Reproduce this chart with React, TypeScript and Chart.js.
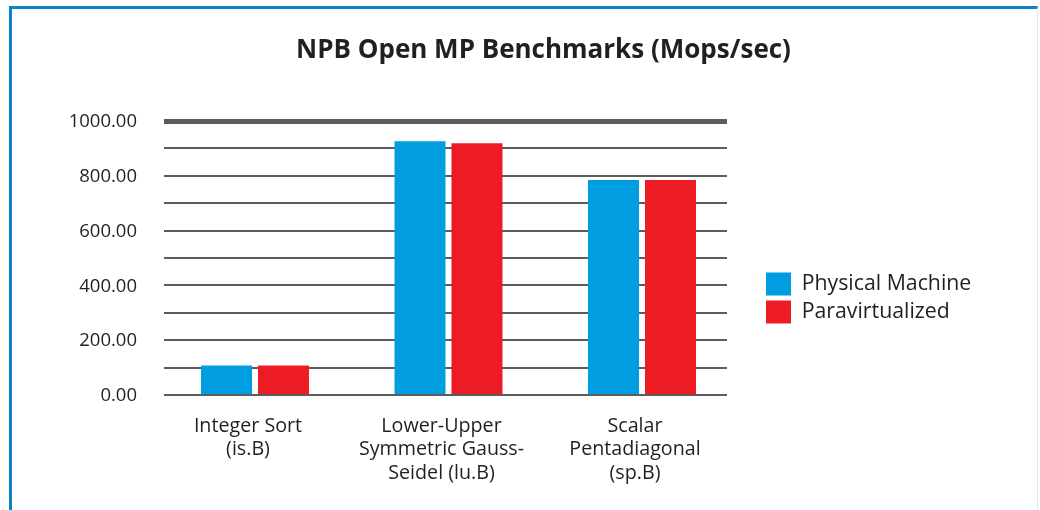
import React, { useEffect, useRef } from 'react';
import { Chart, registerables } from 'chart.js';

Chart.register(...registerables);

const chartTitle = 'NPB Open MP Benchmarks (Mops/sec)';
const categoryLabels: string[][] = [
  ['Integer Sort', '(is.B)'],
  ['Lower-Upper', 'Symmetric Gauss-', 'Seidel (lu.B)'],
  ['Scalar', 'Pentadiagonal', '(sp.B)'],
];
const categoryPositions = [0, 1, 2];
const seriesNames = ['Physical Machine', 'Paravirtualized'];
const physicalMachine = [108, 926, 785];
const paravirtualized = [108, 919, 785];
const yMin = 0;
const yMax = 1000;
const yStep = 100;
const yLabelStep = 200;
const seriesColors = ['#009ee0', '#ed1c24'];

const textColor = '#231f20';
const gridColor = '#5c5c5c';
const fontFamily = "'Open Sans', sans-serif";

const CANVAS_W = 1040;
const PLOT_RIGHT = 727;
const LEGEND_GAP = 34;

export default function App() {
  const ref = useRef<HTMLCanvasElement>(null);

  useEffect(() => {
    const canvas = ref.current;
    if (!canvas) return;
    const seriesValues = [physicalMachine, paravirtualized];
    const chart = new Chart(canvas, {
      type: 'bar',
      data: {
        datasets: seriesNames.map((name, s) => ({
          label: name,
          data: categoryPositions.map((x, i) => ({ x, y: seriesValues[s][i] })),
          backgroundColor: seriesColors[s],
          borderWidth: 0,
          categoryPercentage: 0.589,
          barPercentage: 0.895,
        })),
      },
      options: {
        responsive: false,
        animation: false,
        devicePixelRatio: 1,
        layout: { padding: { left: 47, right: 0, top: 0, bottom: 0 } },
        font: { family: fontFamily },
        plugins: {
          tooltip: { enabled: false },
          title: {
            display: true,
            text: chartTitle,
            color: textColor,
            font: { family: fontFamily, size: 26, weight: 'bold', lineHeight: 1.2 },
            padding: { top: 35.4, bottom: 54.4 },
          },
          legend: {
            display: true,
            position: 'right',
            fullSize: false,
            align: 'center',
            title: { display: true, text: '', font: { size: 10 }, padding: { top: 68, bottom: 0 } },
            labels: {
              boxWidth: 25,
              boxHeight: 23,
              padding: 5,
              color: textColor,
              font: { family: fontFamily, size: 21.3 },
            },
          },
        },
        scales: {
          x: {
            type: 'linear',
            min: -0.4703,
            max: 2.4393,
            offset: false,
            grid: { display: false, offset: false },
            border: { display: false },
            afterBuildTicks: (scale: any) => {
              scale.ticks = categoryPositions.map((v) => ({ value: v }));
            },
            afterFit: (scale: any) => {
              scale.height = 115;
            },
            ticks: {
              autoSkip: false,
              maxRotation: 0,
              minRotation: 0,
              padding: 11.5,
              labelOffset: -7,
              color: textColor,
              font: { family: fontFamily, size: 19.7, lineHeight: 1.195 },
              callback: (v: any) => categoryLabels[Number(v)] ?? '',
            },
          },
          y: {
            type: 'linear',
            position: 'left',
            min: yMin,
            max: yMax,
            border: { display: false },
            grid: {
              drawTicks: false,
              color: gridColor,
              lineWidth: (ctx: any) => (ctx.tick && ctx.tick.value === yMax ? 5 : 2),
            },
            afterFit: (scale: any) => {
              scale.width = 117;
            },
            ticks: {
              stepSize: yStep,
              padding: 27,
              labelOffset: 1,
              color: textColor,
              font: { family: fontFamily, size: 18.5 },
              callback: (v: any) => (Number(v) % yLabelStep === 0 ? Number(v).toFixed(2) : ''),
            },
          },
          gapRight: {
            type: 'linear',
            position: 'right',
            display: false,
            weight: 0,
            afterFit: (scale: any) => {
              scale.width = LEGEND_GAP;
            },
          },
          spacerRight: {
            type: 'linear',
            position: 'right',
            display: false,
            weight: 2000,
            afterFit: (scale: any) => {
              const lg = scale.chart && scale.chart.legend;
              const lw = lg && lg.width ? lg.width : 220;
              scale.width = Math.max(0, CANVAS_W - PLOT_RIGHT - LEGEND_GAP - lw);
            },
          },
        },
      } as any,
    });
    return () => chart.destroy();
  }, []);

  return (
    <div style={{ position: 'fixed', left: 0, top: 0, width: 1040, height: 510, background: '#ffffff' }}>
      <div
        style={{
          position: 'absolute',
          left: 9,
          top: 6,
          width: 1029,
          height: 504,
          boxSizing: 'border-box',
          borderTop: '3px solid #0a84c6',
          borderLeft: '3px solid #0a84c6',
          borderRight: '1px solid #dce6ee',
        }}
      />
      <canvas
        ref={ref}
        width={1040}
        height={510}
        style={{ position: 'absolute', left: 0, top: 0, width: 1040, height: 510 }}
      />
    </div>
  );
}
